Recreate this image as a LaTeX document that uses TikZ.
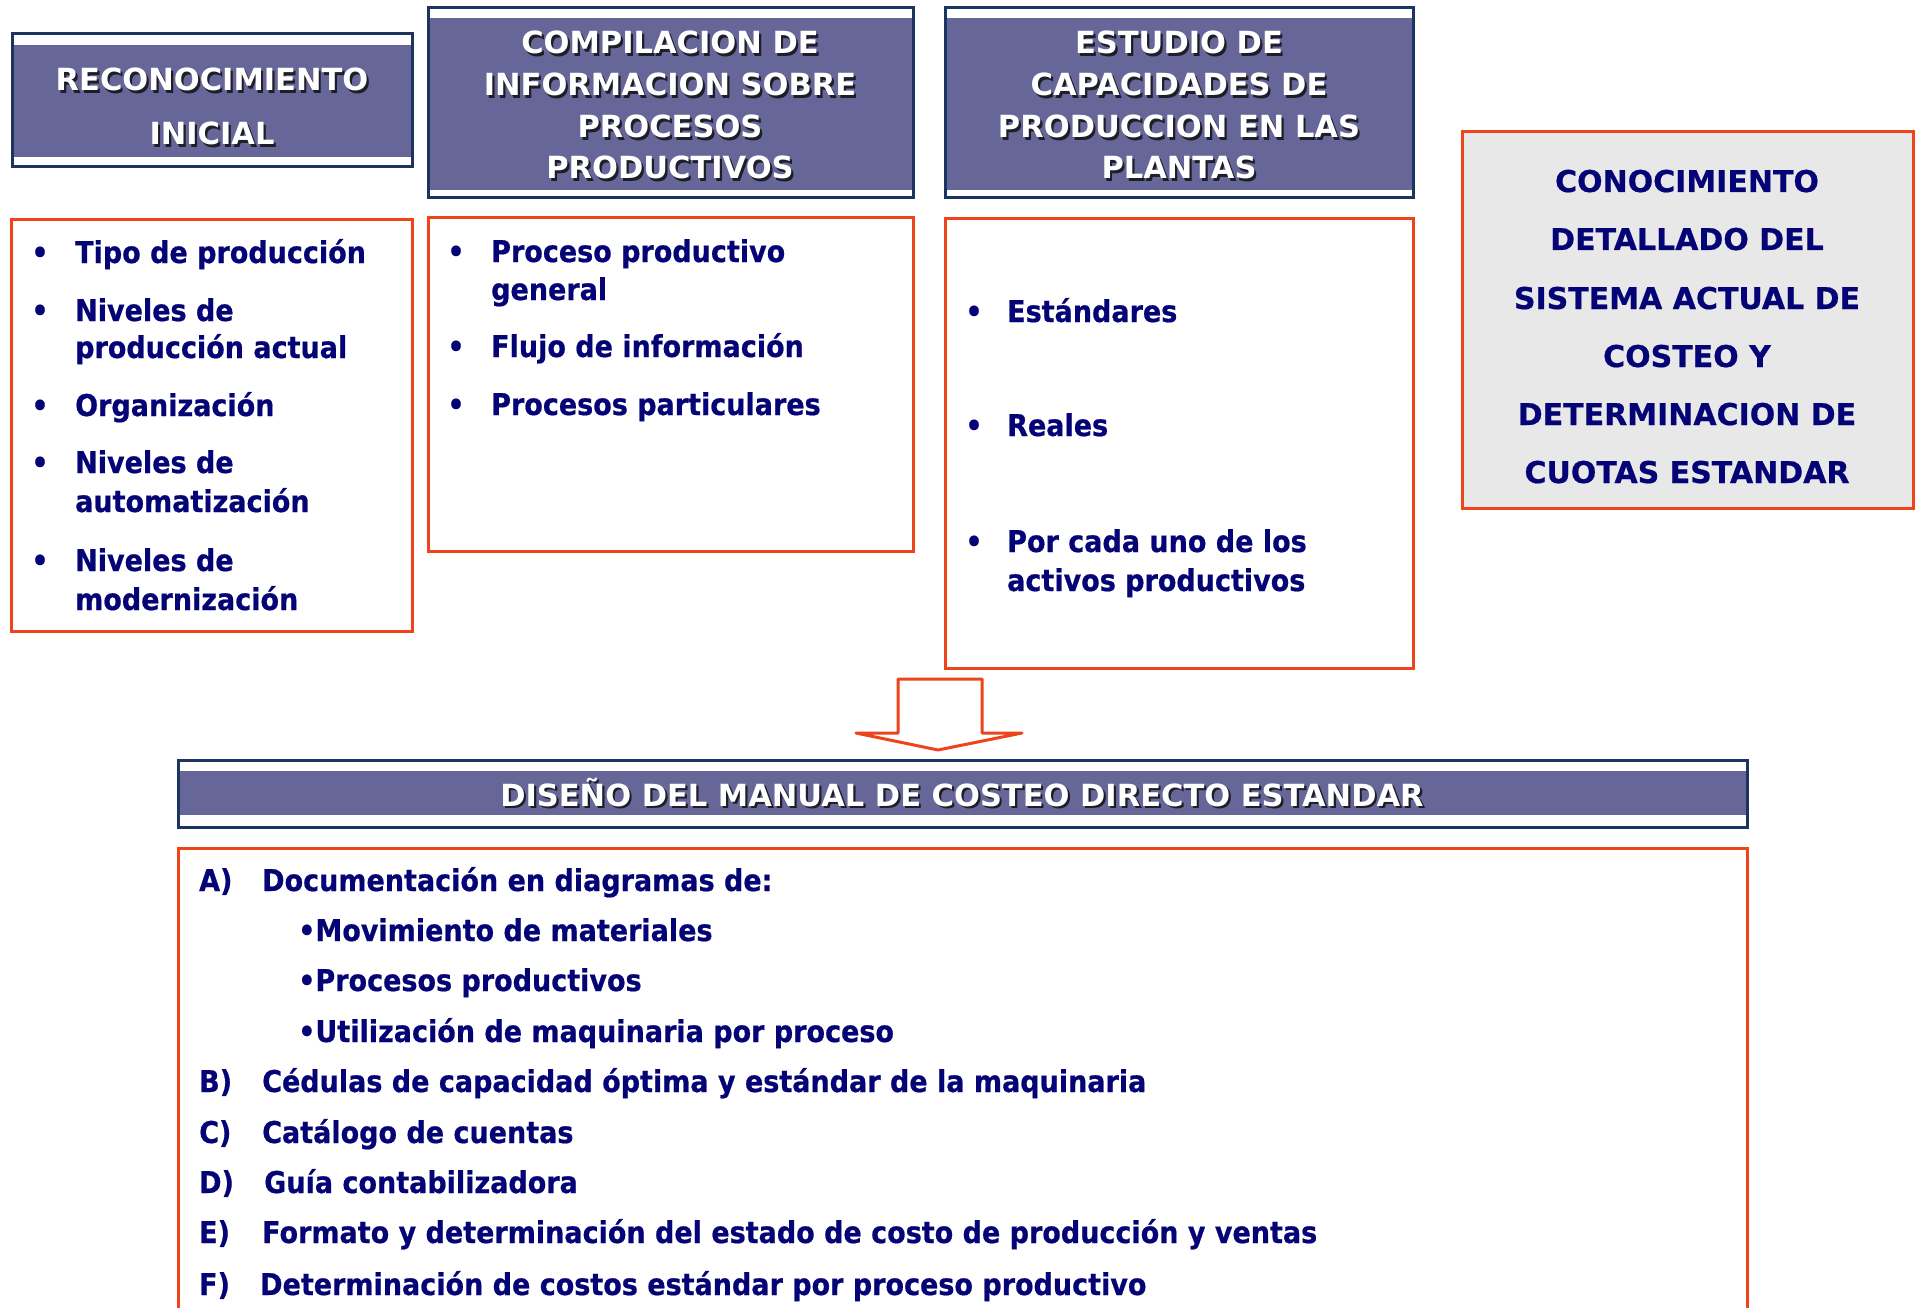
\documentclass[tikz,border=0pt]{standalone}
\usepackage{fontspec}
\setmainfont{DejaVu Sans}
\newfontfamily\hdfont{DejaVu Sans}
\newfontfamily\bodyfont{DejaVu Sans}[FakeStretch=0.9,FakeBold=0.6]
\newfontfamily\captfont{DejaVu Sans}[FakeBold=0.6]
\definecolor{purp}{RGB}{103,102,153}
\definecolor{navyb}{RGB}{28,52,96}
\definecolor{orng}{RGB}{238,68,28}
\definecolor{txtnavy}{RGB}{4,4,118}
\definecolor{shade}{RGB}{30,30,40}
\definecolor{grayfill}{RGB}{232,232,232}
\newcommand\hdrbox[6]{%
  \fill[white] (#1,#2) rectangle (#3,#4);
  \fill[purp] (#1,#5) rectangle (#3,#6);
  \draw[navyb,line width=3] (#1,#2) rectangle (#3,#4);}
\newcommand\shtext[4]{%
  \node[hdrsh] (#1s) at ({#2+2.2},{#3+2.2}) {#4};
  \node[hdr] (#1) at (#2,#3) {#4};}
\tikzset{
  hdr/.style={font=\hdfont\bfseries\fontsize{30.5}{36}\selectfont,text=white,inner sep=0,anchor=base},
  hdrsh/.style={hdr,text=shade},
  item/.style={font=\bodyfont\bfseries\fontsize{30}{36}\selectfont,text=txtnavy,inner sep=0,anchor=base west},
  bul/.style={font=\bodyfont\bfseries\fontsize{30}{36}\selectfont,text=txtnavy,inner sep=0,anchor=base},
  capt/.style={font=\captfont\bfseries\fontsize{30}{36}\selectfont,text=txtnavy,inner sep=0,anchor=base},
  obox/.style={draw=orng,line width=3},
}
\begin{document}
\begin{tikzpicture}[x=1pt,y=-1pt]
\useasboundingbox (0,0) rectangle (1917,1308);
\clip (0,0) rectangle (1917,1308);
\fill[white] (0,0) rectangle (1917,1308);

% ---- header boxes ----
\hdrbox{12}{34}{412}{167}{45}{157}
\hdrbox{428}{8}{913}{198}{18}{190}
\hdrbox{945}{8}{1413}{198}{18}{190}

\shtext{h1a}{212}{91}{RECONOCIMIENTO}
\shtext{h1b}{212}{145}{INICIAL}

\shtext{h2a}{670}{54}{COMPILACION DE}
\shtext{h2b}{670}{96}{INFORMACION SOBRE}
\shtext{h2c}{670}{138}{PROCESOS}
\shtext{h2d}{670}{179}{PRODUCTIVOS}

\shtext{h3a}{1179}{54}{ESTUDIO DE}
\shtext{h3b}{1179}{96}{CAPACIDADES DE}
\shtext{h3c}{1179}{138}{PRODUCCION EN LAS}
\shtext{h3d}{1179}{179}{PLANTAS}

% ---- content boxes ----
\draw[obox] (11,220) rectangle (412,631);
\draw[obox] (428,218) rectangle (913,551);
\draw[obox] (945,219) rectangle (1413,668);

\node[bul] (b1a) at (40,263) {•};
\node[item] (t1a) at (75,263) {Tipo de producción};
\node[bul] (b1b) at (40,321) {•};
\node[item] (t1b) at (75,321) {Niveles de};
\node[item] (t1c) at (75,358) {producción actual};
\node[bul] (b1d) at (40,416) {•};
\node[item] (t1d) at (75,416) {Organización};
\node[bul] (b1e) at (40,473) {•};
\node[item] (t1e) at (75,473) {Niveles de};
\node[item] (t1f) at (75,512) {automatización};
\node[bul] (b1g) at (40,571) {•};
\node[item] (t1g) at (75,571) {Niveles de};
\node[item] (t1h) at (75,610) {modernización};

\node[bul] (b2a) at (456,262) {•};
\node[item] (t2a) at (491,262) {Proceso productivo};
\node[item] (t2b) at (491,300) {general};
\node[bul] (b2c) at (456,357) {•};
\node[item] (t2c) at (491,357) {Flujo de información};
\node[bul] (b2d) at (456,415) {•};
\node[item] (t2d) at (491,415) {Procesos particulares};

\node[bul] (b3a) at (974,322) {•};
\node[item] (t3a) at (1007,322) {Estándares};
\node[bul] (b3b) at (974,436) {•};
\node[item] (t3b) at (1007,436) {Reales};
\node[bul] (b3c) at (974,552) {•};
\node[item] (t3c) at (1007,552) {Por cada uno de los};
\node[item] (t3d) at (1007,591) {activos productivos};

% ---- right box ----
\draw[obox,fill=grayfill] (1462,132) rectangle (1913,508);
\node[capt] (r1) at (1687,192) {CONOCIMIENTO};
\node[capt] (r2) at (1687,250) {DETALLADO DEL};
\node[capt] (r3) at (1687,309) {SISTEMA ACTUAL DE};
\node[capt] (r4) at (1687,367) {COSTEO Y};
\node[capt] (r5) at (1687,425) {DETERMINACION DE};
\node[capt] (r6) at (1687,483) {CUOTAS ESTANDAR};

% ---- block arrow ----
\draw[obox,fill=white,line join=round]
  (898,679) -- (982,679) -- (982,733) -- (1022,733) -- (938,750)
  -- (856,733) -- (898,733) -- cycle;

% ---- bottom header ----
\hdrbox{178}{760}{1747}{827}{771}{815}
\shtext{h4}{962}{806}{DISEÑO DEL MANUAL DE COSTEO DIRECTO ESTANDAR}

% ---- bottom content ----
\draw[obox] (178,848) rectangle (1747,1340);
\node[item] (la) at (199,891) {A)};
\node[item] (ta) at (262,891) {Documentación en diagramas de:};
\node[item] (ta1) at (298,941) {•Movimiento de materiales};
\node[item] (ta2) at (298,991) {•Procesos productivos};
\node[item] (ta3) at (298,1042) {•Utilización de maquinaria por proceso};
\node[item] (lb) at (199,1092) {B)};
\node[item] (tb) at (262,1092) {Cédulas de capacidad óptima y estándar de la maquinaria};
\node[item] (lc) at (199,1143) {C)};
\node[item] (tc) at (262,1143) {Catálogo de cuentas};
\node[item] (ld) at (199,1193) {D)};
\node[item] (td) at (264,1193) {Guía contabilizadora};
\node[item] (le) at (199,1243) {E)};
\node[item] (te) at (262,1243) {Formato y determinación del estado de costo de producción y ventas};
\node[item] (lf) at (199,1295) {F)};
\node[item] (tf) at (260,1295) {Determinación de costos estándar por proceso productivo};
\end{tikzpicture}
\end{document}
